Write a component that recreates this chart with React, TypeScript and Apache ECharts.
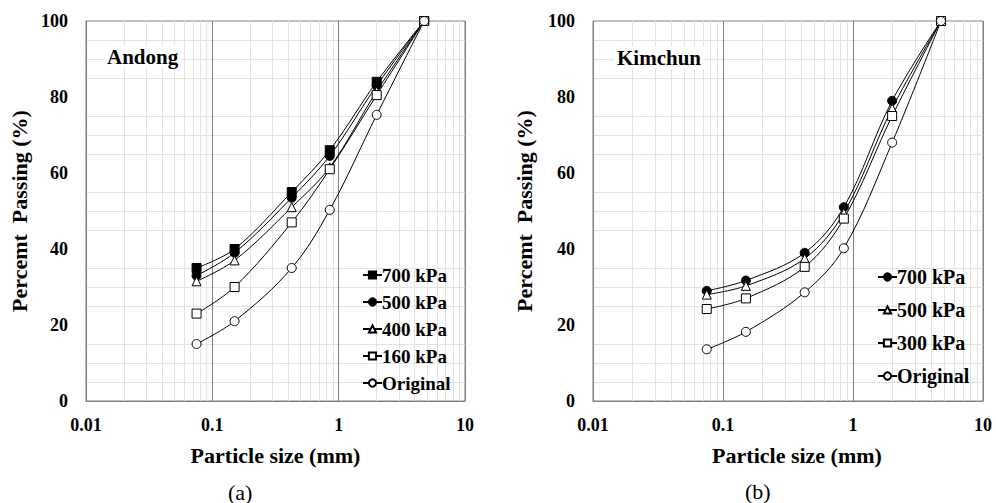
import React, { useEffect, useRef } from "react";
import * as echarts from "echarts";

// Sieve sizes (mm)
const SIZES = [0.075, 0.15, 0.425, 0.85, 2, 4.75];

// Andong (a)
const ANDONG_NAMES = ["700 kPa", "500 kPa", "400 kPa", "160 kPa", "Original"];
const A700 = [35, 40, 55, 66, 84, 100];
const A500 = [33, 39, 53.5, 64.5, 83, 100];
const A400 = [31.5, 37, 51, 61.5, 81.5, 100];
const A160 = [23, 30, 47, 61, 80.5, 100];
const AORIG = [15, 21, 35, 50.3, 75.3, 100];

// Kimchun (b)
const KIMCHUN_NAMES = ["700 kPa", "500 kPa", "300 kPa", "Original"];
const K700 = [29, 31.7, 39, 51, 79, 100];
const K500 = [28, 30.3, 37.5, 49.5, 77, 100];
const K300 = [24.2, 27, 35.3, 48, 75, 100];
const KORIG = [13.6, 18.2, 28.6, 40.2, 68, 100];

const Y_TICKS = [0, 20, 40, 60, 80, 100];
const X_DECADES = [0.01, 0.1, 1];
const MINOR_MULT = [2, 3, 4, 5, 6, 7, 8, 9];

const FONT = "Liberation Serif";

type Sym = { symbol: string; filled: boolean; size: number };
const A_SYMS: Sym[] = [
  { symbol: "rect", filled: true, size: 9 },
  { symbol: "circle", filled: true, size: 9 },
  { symbol: "triangle", filled: false, size: 9 },
  { symbol: "rect", filled: false, size: 9 },
  { symbol: "circle", filled: false, size: 9 },
];
const K_SYMS: Sym[] = [
  { symbol: "circle", filled: true, size: 9 },
  { symbol: "triangle", filled: false, size: 9 },
  { symbol: "rect", filled: false, size: 9 },
  { symbol: "circle", filled: false, size: 9 },
];

function mkSeries(prefix: string, name: string, vals: number[], s: Sym, idx: number) {
  return {
    name: prefix + ":" + name,
    type: "line",
    xAxisIndex: idx,
    yAxisIndex: idx,
    data: SIZES.map((x, i) => [x, vals[i]]),
    smooth: 0.35,
    symbol: s.symbol,
    symbolSize: s.size,
    showSymbol: true,
    z: 3,
    lineStyle: { color: "#000", width: 1 },
    itemStyle: {
      color: s.filled ? "#000" : "#fff",
      borderColor: "#000",
      borderWidth: 1,
    },
    emphasis: { disabled: true },
  };
}

function minorSeries(idx: number) {
  const lines: number[] = [];
  X_DECADES.forEach((d) => MINOR_MULT.forEach((m) => lines.push(Number((d * m).toPrecision(3)))));
  return {
    name: "minor" + idx,
    type: "line",
    xAxisIndex: idx,
    yAxisIndex: idx,
    data: [],
    symbol: "none",
    z: 1,
    silent: true,
    markLine: {
      silent: true,
      z: 1,
      symbol: ["none", "none"],
      label: { show: false },
      emphasis: { disabled: true },
      lineStyle: { color: "#e3e3e3", type: "solid", width: 1 },
      data: lines.map((v) => ({ xAxis: v })),
    },
  };
}

function xAxis(idx: number, namePad: number) {
  return {
    type: "log",
    logBase: 10,
    gridIndex: idx,
    min: 0.01,
    max: 10,
    name: "Particle size (mm)",
    nameLocation: "middle",
    nameGap: 43,
    nameTextStyle: { fontFamily: FONT, fontWeight: "bold", fontSize: 22, color: "#000", padding: [0, 0, 0, namePad] },
    axisLine: { show: true, lineStyle: { color: "#7f7f7f", width: 1 } },
    axisTick: { show: false },
    axisLabel: {
      fontFamily: FONT,
      fontWeight: "bold",
      fontSize: 18,
      color: "#000",
      margin: 15,
      formatter: (v: number) => String(Number(v.toPrecision(3))),
    },
    splitLine: { show: true, lineStyle: { color: "#7f7f7f", width: 1 } },
    minorTick: { show: false },
    minorSplitLine: { show: false },
  };
}

function yAxis(idx: number, gap: number) {
  return {
    type: "value",
    gridIndex: idx,
    min: Y_TICKS[0],
    max: Y_TICKS[Y_TICKS.length - 1],
    interval: 20,
    name: "Percemt  Passing (%)",
    nameLocation: "middle",
    nameGap: gap,
    nameTextStyle: { fontFamily: FONT, fontWeight: "bold", fontSize: 22, color: "#000" },
    axisLine: { show: true, lineStyle: { color: "#7f7f7f", width: 1 } },
    axisTick: { show: false },
    axisLabel: { fontFamily: FONT, fontWeight: "bold", fontSize: 18, color: "#000", margin: 18 },
    splitLine: { show: false },
    minorTick: { show: false, splitNumber: 4 },
    minorSplitLine: { show: true, lineStyle: { color: "#e3e3e3", width: 1 } },
  };
}

export default function App() {
  const ref = useRef<HTMLDivElement>(null);
  useEffect(() => {
    if (!ref.current) return;
    const chart = echarts.init(ref.current, undefined, { renderer: "svg" });
    const aVals = [A700, A500, A400, A160, AORIG];
    const kVals = [K700, K500, K300, KORIG];
    const series: any[] = [minorSeries(0), minorSeries(1)];
    ANDONG_NAMES.forEach((n, i) => series.push(mkSeries("a", n, aVals[i], A_SYMS[i], 0)));
    KIMCHUN_NAMES.forEach((n, i) => series.push(mkSeries("k", n, kVals[i], K_SYMS[i], 1)));

    const legendBase = {
      orient: "vertical",
      selectedMode: false,
      itemWidth: 19,
      itemHeight: 9,
      formatter: (name: string) => name.split(":")[1],
      backgroundColor: "transparent",
    };

    chart.setOption({
      animation: false,
      backgroundColor: "#fff",
      textStyle: { fontFamily: FONT },
      grid: [
        { left: 86, top: 21, width: 379, height: 380, show: true, borderColor: "#7f7f7f", borderWidth: 1, backgroundColor: "transparent" },
        { left: 593, top: 21, width: 390, height: 380, show: true, borderColor: "#7f7f7f", borderWidth: 1, backgroundColor: "transparent" },
      ],
      xAxis: [xAxis(0, 0), xAxis(1, 18)],
      yAxis: [yAxis(0, 56), yAxis(1, 58)],
      legend: [
        {
          ...legendBase,
          left: 357,
          top: 260,
          itemGap: 7,
          textStyle: { fontFamily: FONT, fontWeight: "bold", fontSize: 19, color: "#000", lineHeight: 20, padding: [0, 0, 0, -5] },
          data: ANDONG_NAMES.map((n) => "a:" + n),
        },
        {
          ...legendBase,
          left: 872,
          top: 262,
          itemGap: 13,
          textStyle: { fontFamily: FONT, fontWeight: "bold", fontSize: 20, color: "#000", lineHeight: 20, padding: [0, 0, 0, -5] },
          data: KIMCHUN_NAMES.map((n) => "k:" + n),
        },
      ],
      graphic: [
        {
          type: "text", left: 104, top: 45, z: 10,
          style: { text: "Andong", fontFamily: FONT, fontWeight: "bold", fontSize: 21, fill: "#000", backgroundColor: "#fff", padding: [1, 3, 1, 3] },
        },
        {
          type: "text", left: 614, top: 46, z: 10,
          style: { text: "Kimchun", fontFamily: FONT, fontWeight: "bold", fontSize: 21, fill: "#000", backgroundColor: "#fff", padding: [1, 3, 1, 3] },
        },
        { type: "text", left: 228, top: 481, style: { text: "(a)", fontFamily: FONT, fontSize: 22, fill: "#000" } },
        { type: "text", left: 745, top: 480, style: { text: "(b)", fontFamily: FONT, fontSize: 22, fill: "#000" } },
      ],
      series,
    });
    return () => chart.dispose();
  }, []);
  return (
    <div
      ref={ref}
      style={{ position: "fixed", left: 0, top: 0, width: 996, height: 503, background: "#fff" }}
    />
  );
}
